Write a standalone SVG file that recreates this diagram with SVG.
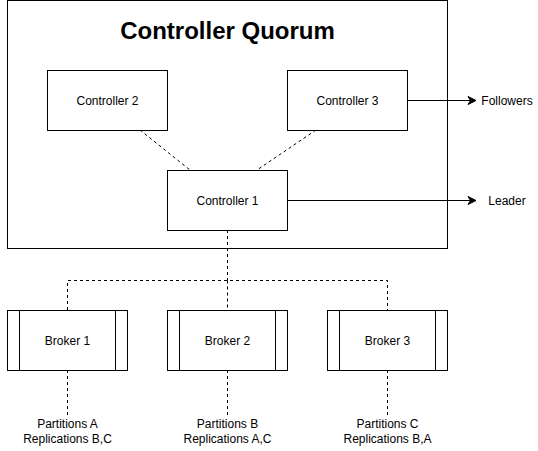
<svg xmlns="http://www.w3.org/2000/svg" width="538" height="451" viewBox="0 0 538 451">
<defs>
<marker id="arr" markerWidth="12" markerHeight="12" refX="9" refY="6" orient="auto" markerUnits="userSpaceOnUse">
<path d="M1,2 L9,6 L1,10 L3.5,6 Z" fill="#000" stroke="#000" stroke-width="1"/>
</marker>
<style>
.box{fill:#fff;stroke:#000;stroke-width:1}
.lbl{font-family:"Liberation Sans",Arial,sans-serif;font-size:12px;fill:#000;text-anchor:middle}
.dash{fill:none;stroke:#000;stroke-width:1;stroke-dasharray:3 3}
.solid{fill:none;stroke:#000;stroke-width:1}
</style>
</defs>
<rect width="538" height="451" fill="#fff"/>
<g id="quorum">
<rect class="box" x="7.5" y="0.5" width="440" height="248"/>
<text x="227.5" y="38.5" style="font-family:'Liberation Sans',Arial,sans-serif;font-size:24px;font-weight:bold;text-anchor:middle">Controller Quorum</text>
</g>
<g id="connectors">
<path class="dash" d="M140,130 L190,170"/>
<path class="dash" d="M316,130 L257,170"/>
<path class="dash" d="M227.5,230 V280.5 M67.5,310 V280.5 H387.5 V310 M227.5,280.5 V310"/>
<path class="dash" d="M67.5,370 V415 M227.5,370 V415 M387.5,370 V415"/>
<path class="solid" d="M407,100.5 H476" marker-end="url(#arr)"/>
<path class="solid" d="M287,200.5 H476" marker-end="url(#arr)"/>
</g>
<g id="controller2">
<rect class="box" x="47.5" y="70.5" width="120" height="60"/>
<text class="lbl" x="107.5" y="104.5">Controller 2</text>
</g>
<g id="controller3">
<rect class="box" x="287.5" y="70.5" width="120" height="60"/>
<text class="lbl" x="347.5" y="104.5">Controller 3</text>
</g>
<g id="controller1">
<rect class="box" x="167.5" y="170.5" width="120" height="60"/>
<text class="lbl" x="227.5" y="204.5">Controller 1</text>
</g>
<g id="followers"><text class="lbl" x="507" y="104.5">Followers</text></g>
<g id="leader"><text class="lbl" x="507" y="204.5">Leader</text></g>
<g id="broker1">
<rect class="box" x="7.5" y="310.5" width="120" height="60"/>
<path class="solid" d="M19.5,310.5 V370.5 M115.5,310.5 V370.5"/>
<text class="lbl" x="67.5" y="344.5">Broker 1</text>
</g>
<g id="broker2">
<rect class="box" x="167.5" y="310.5" width="120" height="60"/>
<path class="solid" d="M179.5,310.5 V370.5 M275.5,310.5 V370.5"/>
<text class="lbl" x="227.5" y="344.5">Broker 2</text>
</g>
<g id="broker3">
<rect class="box" x="327.5" y="310.5" width="120" height="60"/>
<path class="solid" d="M339.5,310.5 V370.5 M435.5,310.5 V370.5"/>
<text class="lbl" x="387.5" y="344.5">Broker 3</text>
</g>
<g id="label1"><text class="lbl" x="67.5" y="428">Partitions A</text><text class="lbl" x="67.5" y="443">Replications B,C</text></g>
<g id="label2"><text class="lbl" x="227.5" y="428">Partitions B</text><text class="lbl" x="227.5" y="443">Replications A,C</text></g>
<g id="label3"><text class="lbl" x="387.5" y="428">Partitions C</text><text class="lbl" x="387.5" y="443">Replications B,A</text></g>
</svg>
